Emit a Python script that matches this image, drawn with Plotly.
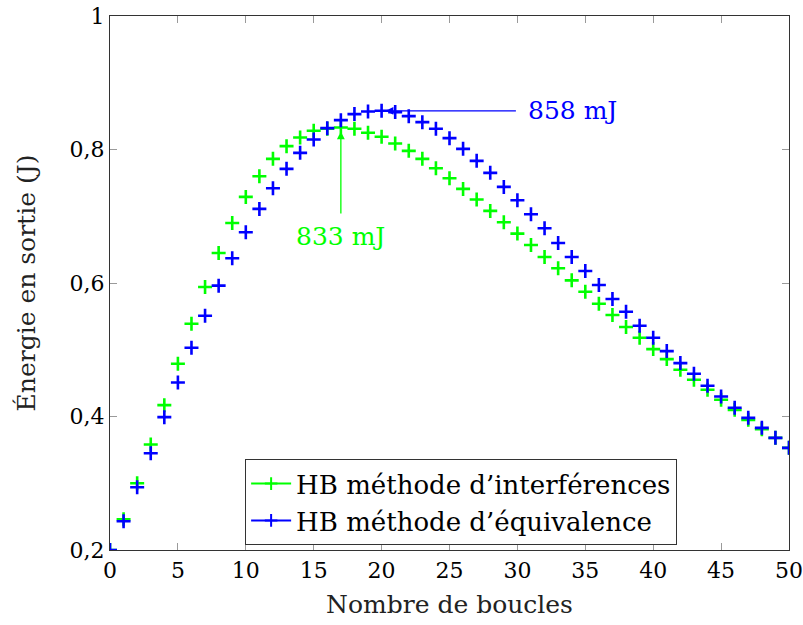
import plotly.graph_objects as go

boucles = list(range(0, 51))
interferences = [0.200, 0.246, 0.300, 0.358, 0.417, 0.479, 0.539, 0.594, 0.645, 0.690,
                 0.729, 0.760, 0.786, 0.805, 0.818, 0.828, 0.831, 0.833, 0.831, 0.825,
                 0.819, 0.809, 0.798, 0.786, 0.772, 0.757, 0.741, 0.725, 0.708, 0.691,
                 0.674, 0.657, 0.639, 0.622, 0.604, 0.587, 0.569, 0.552, 0.534, 0.518,
                 0.501, 0.486, 0.470, 0.455, 0.440, 0.425, 0.410, 0.395, 0.381, 0.368, 0.353]
equivalence = [0.200, 0.243, 0.294, 0.345, 0.399, 0.451, 0.503, 0.551, 0.596, 0.637,
               0.676, 0.711, 0.742, 0.771, 0.795, 0.815, 0.832, 0.844, 0.853, 0.857,
               0.858, 0.856, 0.850, 0.841, 0.831, 0.817, 0.801, 0.783, 0.765, 0.744,
               0.724, 0.703, 0.682, 0.660, 0.639, 0.618, 0.597, 0.576, 0.557, 0.536,
               0.518, 0.498, 0.480, 0.464, 0.446, 0.430, 0.413, 0.398, 0.383, 0.368, 0.353]

x_ticks = [0, 5, 10, 15, 20, 25, 30, 35, 40, 45, 50]
y_ticks = [0.2, 0.4, 0.6, 0.8, 1.0]
y_tick_labels = ["0,2", "0,4", "0,6", "0,8", "1"]

names = ["HB méthode d’interférences", "HB méthode d’équivalence"]
colors = ["#00FF00", "#0000FF"]
series = [interferences, equivalence]

FONT = "DejaVu Serif"
FS = 25
FS_TICK = 22
FS_LEG = 26

fig = go.Figure()
for name, col, vals in zip(names, colors, series):
    fig.add_trace(go.Scatter(
        x=boucles, y=vals, mode="markers", showlegend=False,
        marker=dict(symbol="cross-thin", size=10, color=col,
                    line=dict(color=col, width=2.6)),
    ))
for name, col in zip(names, colors):
    fig.add_trace(go.Scatter(
        x=[None], y=[None], mode="lines+markers", name=name,
        line=dict(color=col, width=2),
        marker=dict(symbol="cross-thin", size=9, color=col,
                    line=dict(color=col, width=2)),
    ))

peak_i = max(range(len(interferences)), key=lambda i: interferences[i])
peak_e = max(range(len(equivalence)), key=lambda i: equivalence[i])

fig.add_annotation(x=boucles[peak_e], y=equivalence[peak_e], ax=30, ay=equivalence[peak_e],
                   axref="x", ayref="y", xref="x", yref="y", text="",
                   showarrow=True, arrowhead=2, arrowsize=1.2, arrowwidth=1.3,
                   arrowcolor=colors[1], standoff=4)
fig.add_annotation(x=30.6, y=equivalence[peak_e], xref="x", yref="y", xanchor="left",
                   text=f"{round(equivalence[peak_e]*1000)} mJ", showarrow=False,
                   font=dict(family=FONT, size=FS, color=colors[1]))
fig.add_annotation(x=boucles[peak_i], y=interferences[peak_i], ax=boucles[peak_i], ay=0.702,
                   axref="x", ayref="y", xref="x", yref="y", text="",
                   showarrow=True, arrowhead=2, arrowsize=1.2, arrowwidth=1.3,
                   arrowcolor=colors[0], standoff=4)
fig.add_annotation(x=boucles[peak_i], y=0.669, xref="x", yref="y",
                   text=f"{round(interferences[peak_i]*1000)} mJ", showarrow=False,
                   font=dict(family=FONT, size=FS, color=colors[0]))

axis_common = dict(
    showgrid=False, zeroline=False, showline=True, linecolor="#333333", linewidth=1.3,
    mirror="ticks", ticks="inside", ticklen=7, tickcolor="#9a9a9a", tickwidth=1.3,
    tickfont=dict(family=FONT, size=FS_TICK, color="black"), automargin=False,
    ticklabeloverflow="allow",
)

fig.update_layout(
    width=803, height=625,
    margin=dict(l=110, r=14, t=16, b=75),
    paper_bgcolor="white", plot_bgcolor="white",
    font=dict(family=FONT, size=FS, color="black"),
    xaxis=dict(range=[0, 50], tickvals=x_ticks,
               title=dict(text="Nombre de boucles", standoff=13,
                          font=dict(family=FONT, size=FS, color="#222")),
               **axis_common),
    yaxis=dict(range=[0.2, 1.0], tickvals=y_ticks, ticktext=y_tick_labels,
               title=dict(text="Énergie en sortie (J)", standoff=26,
                          font=dict(family=FONT, size=FS, color="#222")),
               **axis_common),
    legend=dict(x=0.199, y=0.170, xanchor="left", yanchor="top",
                bordercolor="#333333", borderwidth=1, bgcolor="white",
                font=dict(family=FONT, size=FS_LEG), itemwidth=40,
                tracegroupgap=0),
)

fig.write_html("out.html", config={"displayModeBar": False},
               post_script="document.body.style.margin='0';")
